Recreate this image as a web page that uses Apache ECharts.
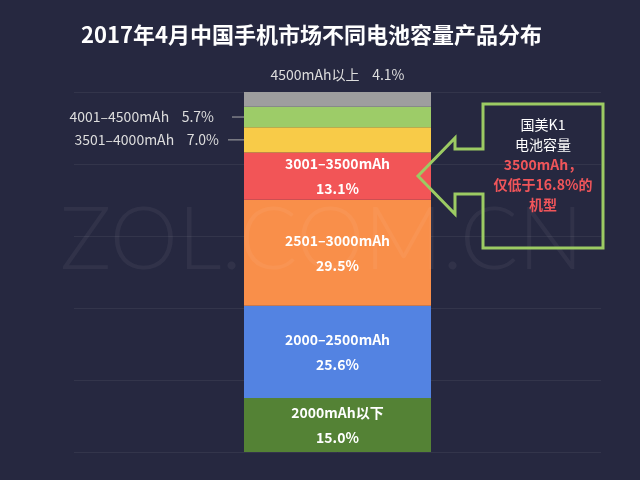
<!DOCTYPE html>
<html><head><meta charset="utf-8">
<script src="https://cdn.jsdelivr.net/npm/echarts@6/dist/echarts.min.js"></script>
<style>html,body{margin:0;background:#262840}#c{width:640px;height:480px}</style>
</head><body><div id="c"></div>
<script>
const categories = ['2017年4月'];
const segmentNames = ['2000mAh以下', '2000–2500mAh', '2501–3000mAh', '3001–3500mAh', '3501–4000mAh', '4001–4500mAh', '4500mAh以上'];
const segmentValues = [15.0, 25.6, 29.5, 13.1, 7.0, 5.7, 4.1];
const colors = ['#548235', '#5383e2', '#f98f4a', '#f25557', '#f8cb48', '#9dcc68', '#9e9e9e'];
const yTickValues = [0, 20, 40, 60, 80, 100];
const titleText = '2017年4月中国手机市场不同电池容量产品分布';
const calloutLines = ['国美K1', '电池容量', '3500mAh，', '仅低于16.8%的', '机型'];

const FONT = '"Noto Sans CJK SC", "Noto Sans", sans-serif';
const chart = echarts.init(document.getElementById('c'));

function labelFor(i) {
  const fmt = (p) => p.value.toFixed(1) + '%';
  if (i <= 3) {
    return {
      show: true, position: 'inside', color: '#fff', fontSize: 14, fontWeight: 'bold',
      fontFamily: FONT, lineHeight: 25,
      formatter: (p) => p.seriesName + '\n' + fmt(p)
    };
  }
  if (i === 6) {
    return {
      show: true, position: 'top', distance: 10, color: '#dddddd', fontSize: 14, fontFamily: FONT,
      formatter: (p) => p.seriesName + '    ' + fmt(p)
    };
  }
  const pad = i === 5 ? 18 : 9;
  return {
    show: true, position: 'left', distance: 0, color: '#dddddd', fontSize: 14, fontFamily: FONT,
    padding: [0, pad, 0, 0], backgroundColor: 'rgba(0,0,0,0)',
    formatter: (p) => p.seriesName + '    ' + fmt(p)
  };
}

const series = segmentNames.map((name, i) => ({
  name, type: 'bar', stack: 'total', barWidth: 187,
  data: [segmentValues[i]],
  itemStyle: { color: colors[i] },
  label: labelFor(i),
  labelLayout: i === 5 ? { dx: -12 } : (i === 4 ? { dx: -16 } : undefined),
  labelLine: (i === 4 || i === 5) ? { show: true, lineStyle: { color: '#aaaaaa', width: 1 } } : { show: false },
  silent: true
}));

const calloutText = calloutLines.map((t, i) => (i < 2 ? '{w|' + t + '}' : '{r|' + t + '}')).join('\n');

chart.setOption({
  backgroundColor: '#262840',
  animation: false,
  title: {
    text: titleText, left: 76, top: 19,
    textStyle: { color: '#ffffff', fontSize: 22, fontWeight: 'bold', fontFamily: FONT }
  },
  grid: { left: 74, right: 39, top: 92, bottom: 28 },
  xAxis: {
    type: 'category', data: categories,
    axisLine: { show: false }, axisTick: { show: false }, axisLabel: { show: false }
  },
  yAxis: {
    type: 'value', min: yTickValues[0], max: yTickValues[yTickValues.length - 1], interval: 20,
    axisLine: { show: false }, axisTick: { show: false }, axisLabel: { show: false },
    splitLine: { lineStyle: { color: '#33354b', width: 1 } }
  },
  series,
  graphic: [
    {
      type: 'text', left: 60, top: 198, z: 100, silent: true,
      style: { text: 'ZOL.COM.CN', fontSize: 86, fontFamily: 'Lato, "DejaVu Sans", sans-serif', fontWeight: 300,
        fill: 'rgba(255,255,255,0.05)' }
    },
    {
      type: 'polygon', z: 101, silent: true,
      shape: { points: [[483,104],[603,104],[603,248],[483,248],[483,194],[455,194],[455,214],[418,176],[455,138],[455,149],[483,149]] },
      style: { fill: 'none', stroke: '#9ccb63', lineWidth: 3 }
    },
    {
      type: 'text', x: 543, y: 115, z: 102, silent: true,
      style: {
        text: calloutText, align: 'center', verticalAlign: 'top',
        rich: {
          w: { fill: '#ffffff', fontSize: 14, fontFamily: FONT, lineHeight: 20 },
          r: { fill: '#f0555a', fontSize: 14, fontWeight: 'bold', fontFamily: FONT, lineHeight: 20 }
        }
      }
    }
  ]
});
</script></body></html>
